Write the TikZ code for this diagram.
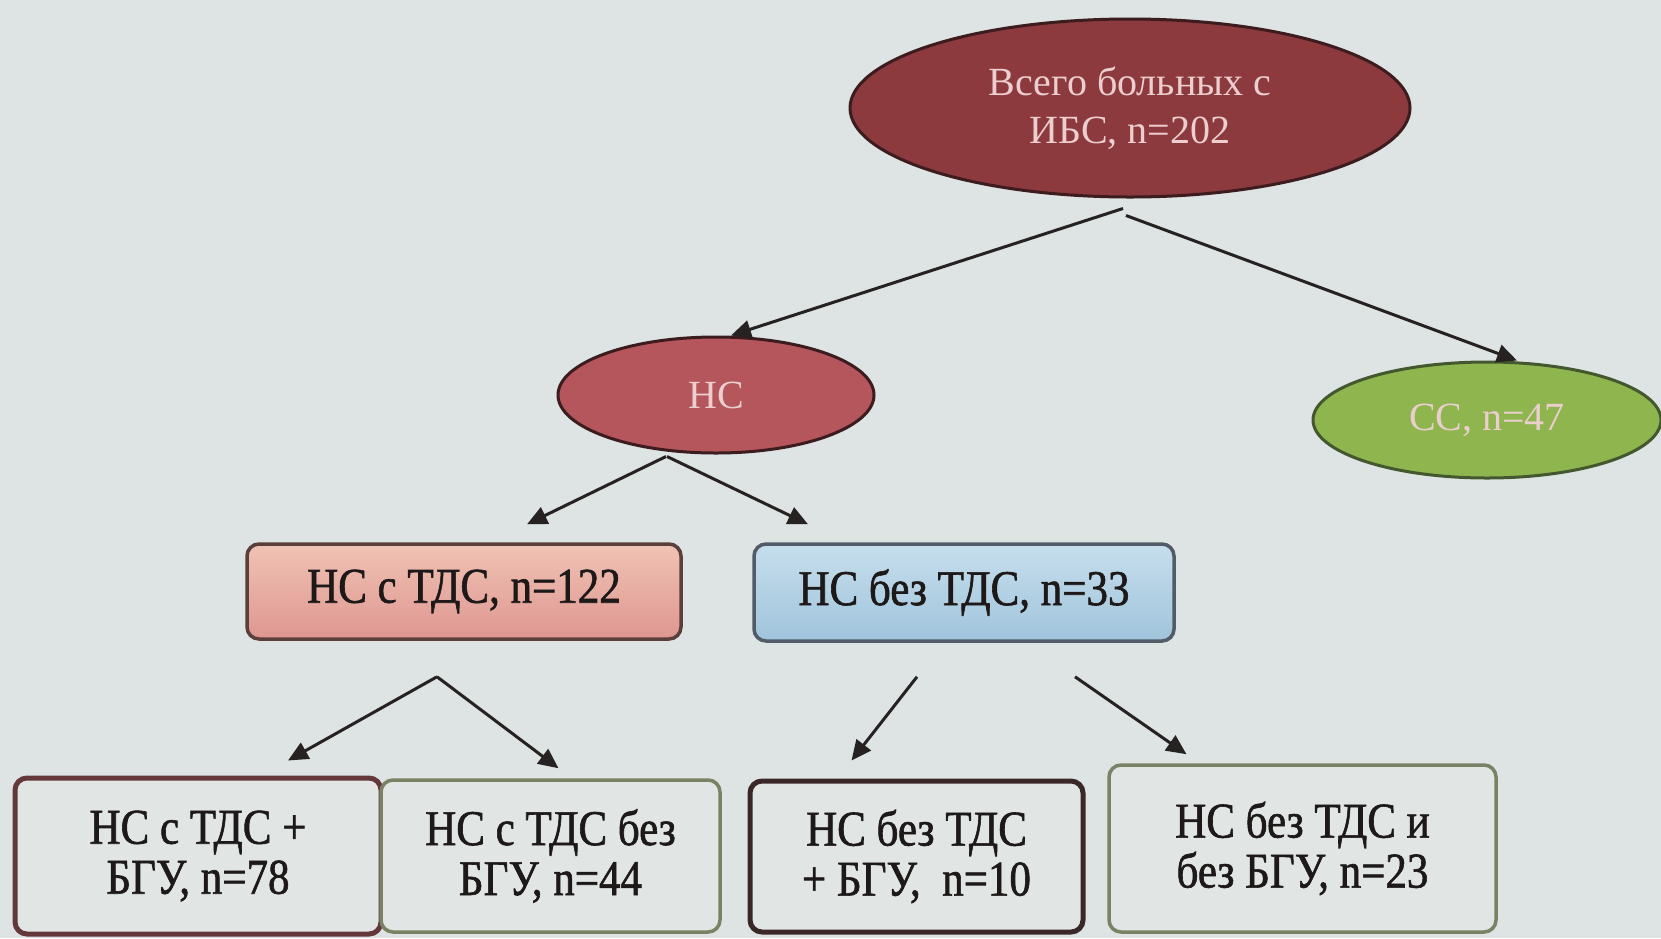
\documentclass[tikz,border=0pt]{standalone}
\usepackage{fontspec}
\setmainfont{Liberation Serif}
\newfontfamily\boxfont[FakeStretch=0.86,FakeBold=1.2]{Liberation Serif}
\newfontfamily\ellfont{Liberation Serif}
\usetikzlibrary{shapes.geometric,arrows.meta,calc}
\definecolor{bg}{RGB}{221,228,227}
\definecolor{topfill}{RGB}{140,58,62}
\definecolor{topline}{RGB}{60,28,30}
\definecolor{nsfill}{RGB}{180,86,92}
\definecolor{ssfill}{RGB}{142,181,78}
\definecolor{ssline}{RGB}{68,88,48}
\definecolor{ellText}{RGB}{236,206,206}
\definecolor{pinkTop}{RGB}{240,195,180}
\definecolor{pinkBot}{RGB}{222,150,145}
\definecolor{pinkLine}{RGB}{92,62,58}
\definecolor{blueTop}{RGB}{198,222,236}
\definecolor{blueBot}{RGB}{160,196,220}
\definecolor{blueLine}{RGB}{82,92,104}
\definecolor{lowFill}{RGB}{225,230,229}
\definecolor{redLine}{RGB}{100,56,58}
\definecolor{oliveLine}{RGB}{122,130,102}
\definecolor{darkLine}{RGB}{58,40,40}
\definecolor{txt}{RGB}{30,25,25}
\definecolor{arrowc}{RGB}{38,34,34}
\tikzset{
  ellnode/.style={ellipse, draw, line width=3pt, inner sep=0pt, text=ellText,
     font=\ellfont\fontsize{40}{48}\selectfont, align=center},
  boxnode/.style={rectangle, rounded corners=12pt, draw, line width=3.5pt, inner sep=0pt,
     text=txt, font=\boxfont\fontsize{50}{50}\selectfont, align=center},
  lowbox/.style={boxnode, fill=lowFill},
  arr/.style={draw=arrowc, line width=3pt, -{Triangle[length=20pt,width=18pt]}}
}
\begin{document}
\begin{tikzpicture}[x=1pt,y=-1pt]
\fill[bg] (0,0) rectangle (1661,938);
\useasboundingbox (0,0) rectangle (1661,938);

\node[ellnode, fill=topfill, draw=topline, minimum width=560pt, minimum height=178pt]
  (top) at (1130,108) {Всего больных с\\ИБС, n=202};
\node[ellnode, fill=nsfill, draw=topline, minimum width=316pt, minimum height=116pt]
  (ns) at (716,395) {НС};
\node[ellnode, fill=ssfill, draw=ssline, minimum width=348pt, minimum height=116pt]
  (ss) at (1487,420) {СС, n=47};

\node[boxnode, top color=pinkTop, bottom color=pinkBot, draw=pinkLine,
  minimum width=434pt, minimum height=95pt] (b1) at (464,591.5) {НС с ТДС, n=122};
\node[boxnode, top color=blueTop, bottom color=blueBot, draw=blueLine,
  minimum width=420pt, minimum height=97pt] (b2) at (964,592.5) {НС без ТДС, n=33};

\node[lowbox, draw=redLine, line width=5pt, minimum width=366pt, minimum height=156pt]
  (c1) at (198,856) {НС с ТДС +\\БГУ, n=78};
\node[lowbox, draw=oliveLine, minimum width=339pt, minimum height=152pt]
  (c2) at (550.5,856) {НС с ТДС без\\БГУ, n=44};
\node[lowbox, draw=darkLine, line width=5pt, minimum width=333pt, minimum height=151pt]
  (c3) at (916.5,856.5) {НС без ТДС\\+ БГУ,\ \ n=10};
\node[lowbox, draw=oliveLine, minimum width=387pt, minimum height=167pt]
  (c4) at (1302.5,848.5) {НС без ТДС и\\без БГУ, n=23};

\draw[arr] ([xshift=-7pt,yshift=-10pt]top.south) -- ([xshift=15pt]ns.north);
\draw[arr] ([xshift=-4pt,yshift=-17pt]top.south) -- ([xshift=30pt]ss.north);

\draw[arr] ([xshift=-50pt,yshift=-2pt]ns.south) -- ([xshift=63pt,yshift=18pt]b1.north);
\draw[arr] ([xshift=-49pt,yshift=-2pt]ns.south) -- ([xshift=-156pt,yshift=18pt]b2.north);

\draw[arr] ([xshift=-27pt,yshift=-36pt]b1.south) -- ([xshift=90pt,yshift=15pt]c1.north);
\draw[arr] ([xshift=-27pt,yshift=-36pt]b1.south) -- ([xshift=8pt,yshift=10pt]c2.north);

\draw[arr] ([xshift=-47pt,yshift=-34pt]b2.south) -- ([xshift=-65pt,yshift=18pt]c3.north);
\draw[arr] ([xshift=111pt,yshift=-34pt]b2.south) -- ([xshift=-116pt,yshift=9pt]c4.north);
\end{tikzpicture}
\end{document}
